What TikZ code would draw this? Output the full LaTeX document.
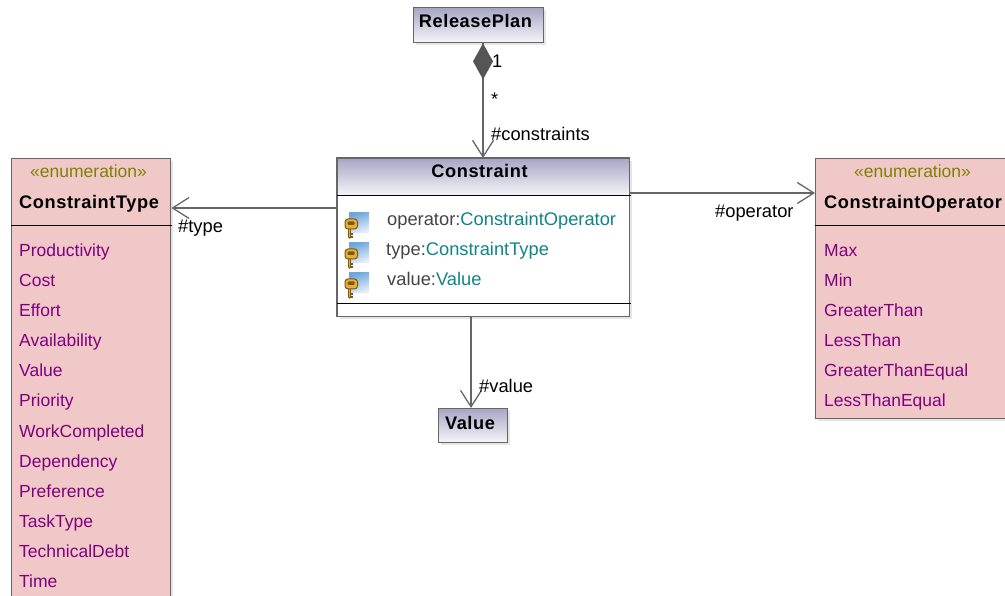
\documentclass[tikz,border=0pt]{standalone}
\usepackage{fontspec}
\setmainfont{Liberation Sans}
\newfontfamily\boldlbl[LetterSpace=3.2,BoldFont={Liberation Sans Bold}]{Liberation Sans}
\usetikzlibrary{arrows.meta,calc}
\definecolor{linegray}{HTML}{666666}
\definecolor{headtop}{HTML}{A8A5C4}
\definecolor{headbot}{HTML}{F6F6FA}
\definecolor{enumpink}{HTML}{F0C8C8}
\definecolor{stereo}{HTML}{808000}
\definecolor{litcol}{HTML}{800080}
\definecolor{typecol}{HTML}{108585}
\definecolor{attrcol}{HTML}{444444}
\definecolor{diamondgray}{HTML}{555555}
\definecolor{keyedge}{HTML}{7A5A10}
\definecolor{keygold}{HTML}{E8AE3A}
\definecolor{iconblue}{HTML}{6FA6DC}
\definecolor{iconpale}{HTML}{E4F0FA}
\tikzset{
  x=1pt,y=-1pt,
  lbl/.style={anchor=base west,inner sep=0pt,font=\fontsize{17.5}{20}\selectfont},
  biglbl/.style={anchor=base west,inner sep=0pt,font=\fontsize{18.3}{20}\selectfont},
  titlelbl/.style={anchor=base,inner sep=0pt,font=\fontsize{18.2}{20}\boldlbl\bfseries,text=black},
  edge lbl/.style={biglbl,text=black},
  lit/.style={lbl,text=litcol},
  attr/.style={biglbl,text=attrcol},
  boxline/.style={draw=linegray,line width=1.4pt},
  rule/.style={draw=black,line width=1pt},
  assoc/.style={draw=linegray,line width=1.4pt,-{Straight Barb[length=16.5pt,width=21pt,line width=1.3pt]}},
  shadowline/.style={draw=black!10,line width=2pt},
  key/.pic={
    \shade[left color=iconblue,right color=iconpale,shading angle=20] (1,-10) rectangle (21,10);
    \draw[keyedge,line width=3.6pt,line cap=round] (1.5,4) -- (1.5,14);
    \draw[keygold,line width=1.6pt,line cap=round] (1.5,5) -- (1.5,13.5);
    \draw[keyedge,line width=1.4pt] (1.5,11) -- (5,11) (1.5,14) -- (5,14);
    \draw[keyedge,line width=1pt,fill=keygold,rounded corners=3pt] (-3,-4) rectangle (9.5,6);
    \fill[keyedge,rounded corners=1pt] (-0.5,-1.5) rectangle (6.5,2);
  }
}
\begin{document}
\begin{tikzpicture}
\useasboundingbox (0,0) rectangle (1005,596);
\clip (0,0) rectangle (1005,596);
% soft shadows
\draw[shadowline] (545,10) -- (545,44) -- (416,44);
\draw[shadowline] (631,161) -- (631,318) -- (340,318);
\draw[shadowline] (509,411) -- (509,444) -- (441,444);
\draw[shadowline] (172,161) -- (172,600);
\draw[shadowline] (818,420) -- (1010,420);
% ReleasePlan
\node[boxline,minimum width=130pt,minimum height=35pt,inner sep=0pt,top color=headtop,bottom color=headbot,anchor=north west] (rp) at (413,7) {};
\node[titlelbl] (rptxt) at (475.5,28) {ReleasePlan};
% Constraint
\node[draw=none,fill=white,minimum width=292pt,minimum height=158pt,inner sep=0pt,anchor=north west] (cons) at (337,158) {};
\shade[top color=headtop,bottom color=headbot] (cons.north west) rectangle ($(cons.north east)+(0,38)$);
\draw[boxline] (cons.north west) rectangle (cons.south east);
\coordinate (consrule1a) at (337,196); \coordinate (consrule1b) at (631,196);
\coordinate (consrule2a) at (337,304); \coordinate (consrule2b) at (631,304);
\draw[rule] (consrule1a) -- (consrule1b);
\draw[rule] (consrule2a) -- (consrule2b);
\node[titlelbl] (constxt) at (479.5,178) {Constraint};
\pic at (348,223) {key};
\pic at (348,253) {key};
\pic at (348,283) {key};
\node[attr] (a1) at (387,226) {operator:\textcolor{typecol}{ConstraintOperator}};
\node[attr] (a2) at (386,256) {type:\textcolor{typecol}{ConstraintType}};
\node[attr] (a3) at (387,286) {value:\textcolor{typecol}{Value}};
% ConstraintType
\node[boxline,fill=enumpink,minimum width=159pt,minimum height=460pt,inner sep=0pt,anchor=north west] (ct) at (11,158) {};
\node[lbl,text=stereo] (ctst) at (30,178) {«enumeration»};
\node[titlelbl,anchor=base west] (cttxt) at (19,209) {ConstraintType};
\coordinate (ctr1) at (11,226); \coordinate (ctr2) at (172,226);
\draw[rule] (ctr1) -- (ctr2);
\foreach \t [count=\i from 0] in {Productivity,Cost,Effort,Availability,Value,Priority,WorkCompleted,Dependency,Preference,TaskType,TechnicalDebt,Time}
  \node[lit] (ctl\i) at (19,256.4+30.1*\i) {\t};
% ConstraintOperator
\node[boxline,fill=enumpink,minimum width=240pt,minimum height=260pt,inner sep=0pt,anchor=north west] (co) at (815,158) {};
\node[lbl,text=stereo] (cost) at (854,178) {«enumeration»};
\node[titlelbl,anchor=base west] (cotxt) at (824,209) {ConstraintOperator};
\coordinate (cor1) at (815,226); \coordinate (cor2) at (1005,226);
\draw[rule] (cor1) -- (cor2);
\foreach \t [count=\i from 0] in {Max,Min,GreaterThan,LessThan,GreaterThanEqual,LessThanEqual}
  \node[lit] (col\i) at (824,256.4+30.1*\i) {\t};
% Value
\node[boxline,minimum width=69pt,minimum height=34pt,inner sep=0pt,top color=headtop,bottom color=headbot,anchor=north west] (val) at (438,408) {};
\node[titlelbl] (valtxt) at (470,429) {Value};
% connectors
\coordinate (rpout) at ($(rp.south west)+(70,0)$);
\coordinate (consin) at ($(cons.north west)+(146,0)$);
\coordinate (consw) at ($(cons.north west)+(0,50)$);
\coordinate (ctin) at ($(ct.north east)+(0,50)$);
\coordinate (conse) at ($(cons.north east)+(0,35)$);
\coordinate (coin) at ($(co.north west)+(0,35)$);
\coordinate (conss) at ($(cons.south west)+(134,0)$);
\coordinate (valin) at ($(val.north west)+(33,0)$);
\draw[assoc] (rpout) -- (consin);
\fill[diamondgray] (rpout) -- ++(10,18) -- ++(-10,18) -- ++(-10,-18) -- cycle;
\draw[assoc] (consw) -- (ctin);
\draw[assoc] (conse) -- (coin);
\draw[assoc] (conss) -- (valin);
% connector labels
\node[edge lbl] (l1) at (492,68) {1};
\node[edge lbl] (l2) at (491,106) {*};
\node[edge lbl] (l3) at (491,141) {\#constraints};
\node[edge lbl] (l4) at (178,233) {\#type};
\node[edge lbl] (l5) at (715,218) {\#operator};
\node[edge lbl] (l6) at (479,392) {\#value};
\end{tikzpicture}
\end{document}
